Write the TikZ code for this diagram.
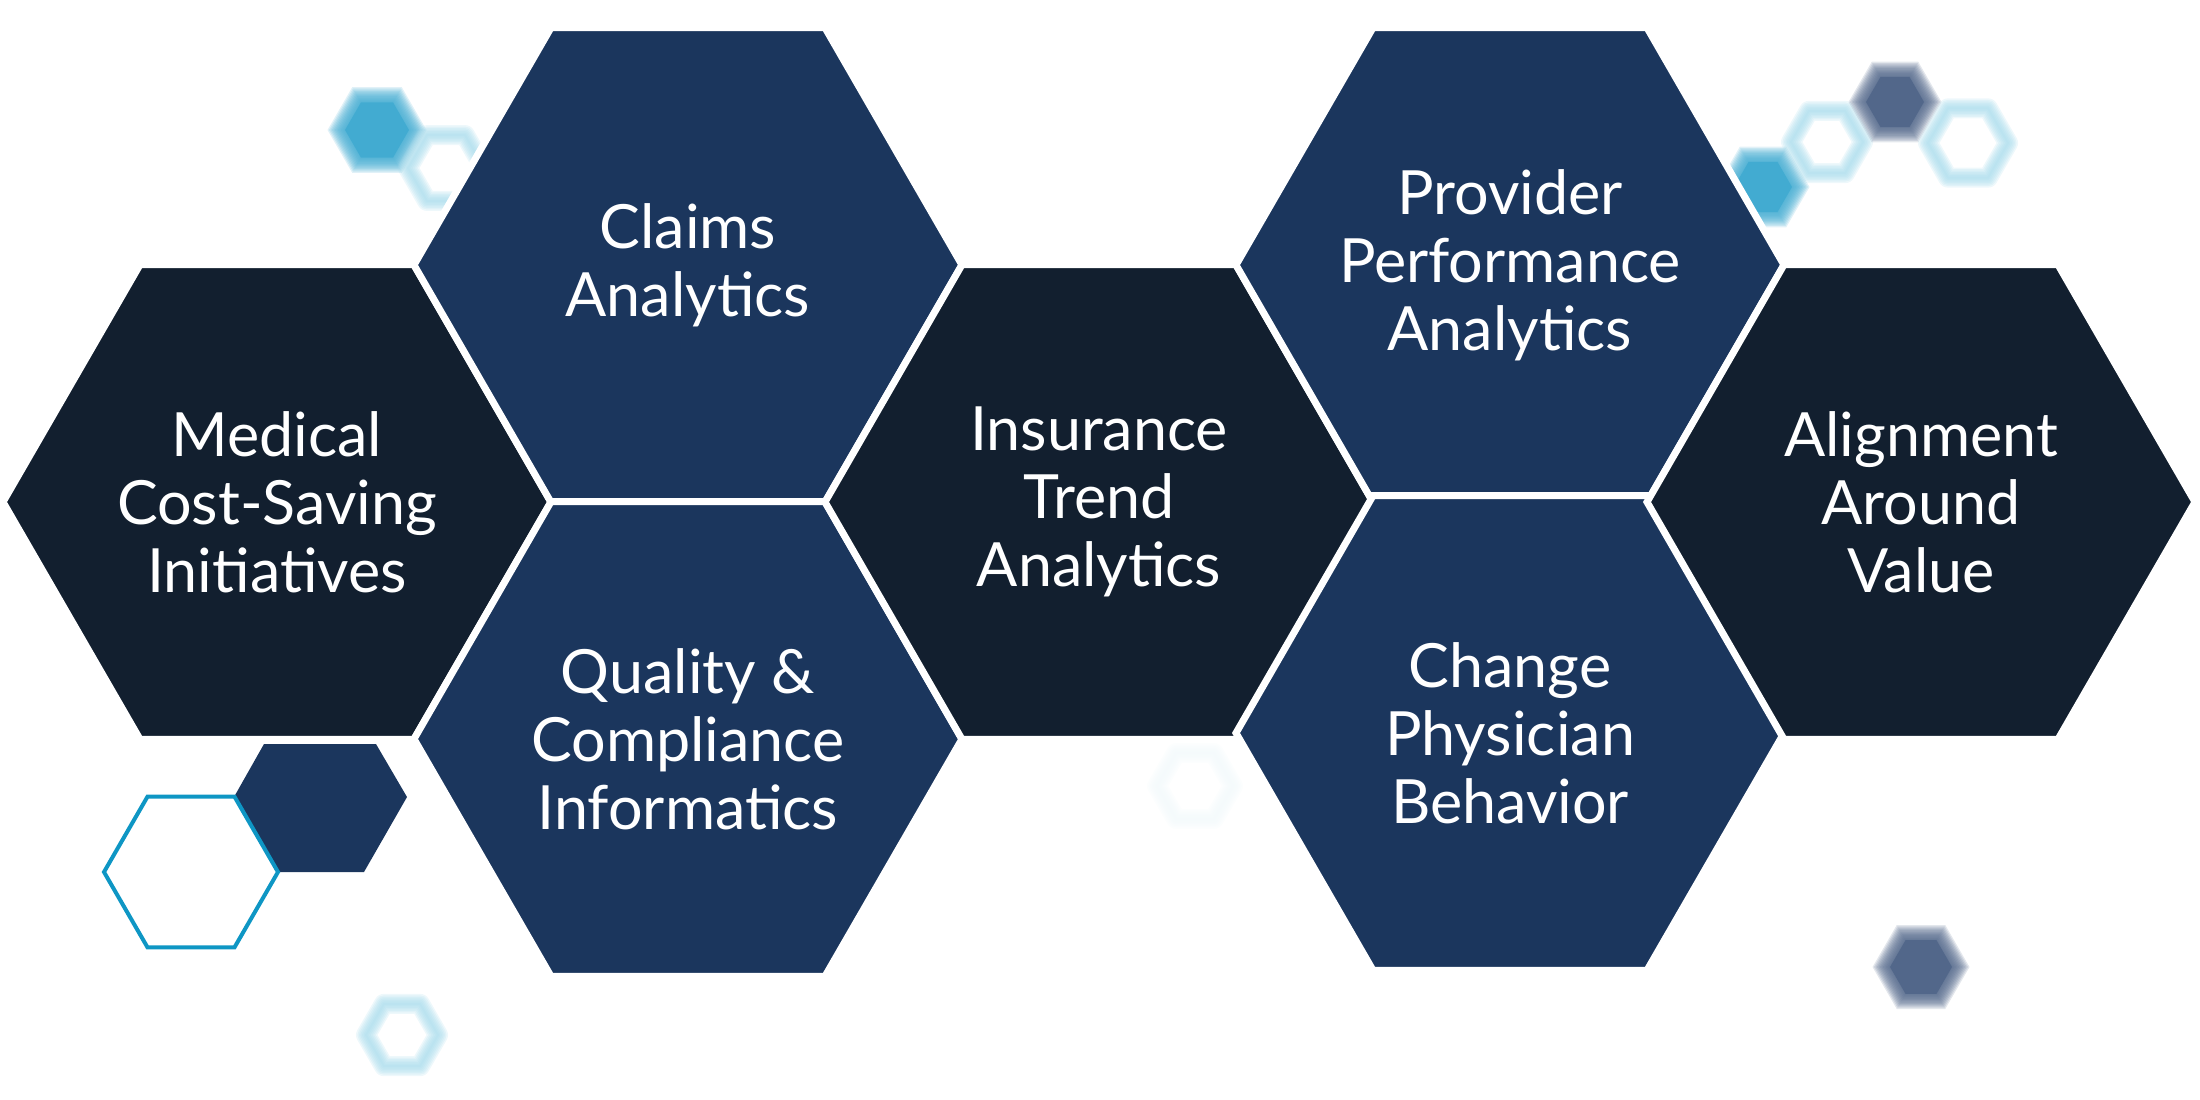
\documentclass[tikz,border=0pt]{standalone}
\usepackage{fontspec}
\setmainfont{Lato}
\usepackage{tikz}
\usetikzlibrary{shapes.geometric}
\definecolor{navydark}{HTML}{121F2F}
\definecolor{navyblue}{HTML}{1B365D}
\definecolor{skyblue}{HTML}{42ABD1}
\definecolor{slateblue}{HTML}{52678A}
\definecolor{palecyan}{HTML}{A9DCEC}
\definecolor{ghostcyan}{HTML}{F2F9FB}
\definecolor{lineblue}{HTML}{0E96C4}
\tikzset{
	hex node/.style={regular polygon,regular polygon sides=6,minimum size=548pt,inner sep=-80pt,
		draw=white,line width=7pt,text=white,align=center,font=\fontsize{61}{68}\selectfont},
	dark hex/.style={hex node,fill=navydark},
	blue hex/.style={hex node,fill=navyblue}
}
\newcommand{\hexpath}[3]{(#1,#2) +(0:{#3}) -- +(60:{#3}) -- +(120:{#3}) -- +(180:{#3}) -- +(240:{#3}) -- +(300:{#3}) -- cycle}
\newcommand{\blurhex}[4]{%
	\fill[#4] \hexpath{#1}{#2}{#3-9};
	\foreach \k in {0,...,11} \fill[#4,opacity=0.16] \hexpath{#1}{#2}{#3-8+1.5*\k};}
\newcommand{\blurring}[4]{%
	\foreach \w in {20,17,14,11,8,5,2} \draw[#4,opacity=0.2,line width=\w pt,line join=round] \hexpath{#1}{#2}{#3};}

\begin{document}
\begin{tikzpicture}[x=1pt,y=-1pt]
	\useasboundingbox (0,0) rectangle (2200,1100);
	% background hexagons
	\blurhex{377}{130}{41}{skyblue}
	\blurring{446}{168}{38}{palecyan}
	\blurring{402}{1035}{36}{palecyan}
	\blurring{1195}{786}{38}{ghostcyan}
	\blurhex{1763}{187}{38}{skyblue}
	\blurring{1827}{142}{36}{palecyan}
	\blurhex{1895}{102}{38}{slateblue}
	\blurring{1968}{143}{40}{palecyan}
	\blurhex{1921}{967}{40}{slateblue}
	\fill[navyblue] (264,744) -- (376,744) -- (407,797) -- (364,872) -- (278,872) -- (234,797) -- cycle;
	\draw[lineblue,line width=4pt] \hexpath{191}{872}{87};
	% honeycomb
	\node [dark hex] (medical) at (277,502) {Medical\\Cost-Saving\\Initiatives};
	\node [blue hex] (claims) at (688,265) {Claims\\Analytics};
	\node [blue hex] (quality) at (688,739) {Quality \&\\Compliance\\Informatics};
	\node [dark hex] (insurance) at (1099,502) {Insurance\\Trend\\Analytics};
	\node [blue hex] (provider) at (1510,265) {Provider\\Performance\\Analytics};
	\node [blue hex] (change) at (1510,733) {Change\\Physician\\Behavior};
	\node [dark hex] (alignment) at (1921,502) {Alignment\\Around\\Value};
\end{tikzpicture}
\end{document}
